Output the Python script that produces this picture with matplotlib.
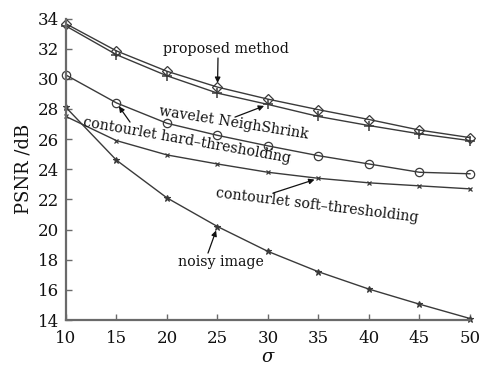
import matplotlib
matplotlib.use("Agg")
import matplotlib.pyplot as plt

sigma = [10, 15, 20, 25, 30, 35, 40, 45, 50]
proposed = [33.65, 31.85, 30.5, 29.45, 28.65, 27.95, 27.3, 26.6, 26.1]
neighshrink = [33.5, 31.6, 30.2, 29.05, 28.3, 27.5, 26.9, 26.35, 25.9]
hard = [30.25, 28.4, 27.05, 26.25, 25.55, 24.9, 24.35, 23.8, 23.7]
soft = [27.5, 25.9, 24.95, 24.35, 23.8, 23.4, 23.1, 22.9, 22.7]
noisy = [28.1, 24.6, 22.1, 20.2, 18.55, 17.2, 16.05, 15.05, 14.1]

xticks = [10, 15, 20, 25, 30, 35, 40, 45, 50]
yticks = [14, 16, 18, 20, 22, 24, 26, 28, 30, 32, 34]

line_col = "#3a3a3a"
spine_col = "#6a6a6a"
txt_col = "#111111"
serif = "DejaVu Serif"

fig = plt.figure(figsize=(4.81, 3.68), dpi=100)
ax = fig.add_axes([0.1372, 0.1304, 0.8399, 0.8193])

common = dict(color=line_col, lw=1.0, clip_on=False)
ax.plot(sigma, proposed, marker="D", markersize=5, mfc="none", mec=line_col, mew=0.9, **common)
ax.plot(sigma, neighshrink, marker="+", markersize=7, mec=line_col, mew=1.1, **common)
ax.plot(sigma, hard, marker="o", markersize=6, mfc="none", mec=line_col, mew=0.9, **common)
ax.plot(sigma, soft, marker="x", markersize=3.5, mec=line_col, mew=0.9, **common)
ax.plot(sigma, noisy, marker="*", markersize=5, mfc=line_col, mec=line_col, mew=0.8, **common)

ax.set_xlim(10, 50)
ax.set_ylim(14, 34)
ax.set_xticks(xticks)
ax.set_yticks(yticks)
for s in ["top", "right"]:
    ax.spines[s].set_visible(False)
for s in ["left", "bottom"]:
    ax.spines[s].set_color(spine_col)
    ax.spines[s].set_linewidth(1.6)
ax.tick_params(direction="in", length=4, width=1.0, color=spine_col,
               labelsize=12, labelcolor=txt_col)
ax.tick_params(axis="x", pad=7)
ax.tick_params(axis="y", pad=5)
for lab in ax.get_xticklabels() + ax.get_yticklabels():
    lab.set_family(serif)

ax.set_ylabel("PSNR /dB", family=serif, fontsize=13, color=txt_col, labelpad=4)
ax.set_xlabel("σ", family=serif, style="italic", fontsize=13, color=txt_col, labelpad=1)

fs = 10.2
arrow = dict(arrowstyle="-|>", color="#111111", lw=0.9, mutation_scale=8,
             shrinkA=0, shrinkB=3)

# proposed method
ax.text(25.84, 31.98, "proposed method", family=serif, fontsize=fs, color=txt_col,
        ha="center", va="center")
ax.annotate("", xy=(sigma[3], proposed[3]), xytext=(25.05, 31.38), arrowprops=arrow)

# wavelet NeighShrink
ax.text(26.63, 27.07, "wavelet NeighShrink", family=serif, fontsize=fs, color=txt_col,
        ha="center", va="center", rotation=-9, rotation_mode="anchor")
ax.annotate("", xy=(sigma[4], neighshrink[4]), xytext=(26.73, 27.46), arrowprops=arrow)

# contourlet hard-thresholding
ax.text(21.98, 25.94, "contourlet hard–thresholding", family=serif, fontsize=fs,
        color=txt_col, ha="center", va="center", rotation=-10, rotation_mode="anchor")
ax.annotate("", xy=(sigma[1], hard[1]), xytext=(16.34, 27.13), arrowprops=arrow)

# contourlet soft-thresholding
ax.text(34.85, 21.62, "contourlet soft–thresholding", family=serif, fontsize=fs,
        color=txt_col, ha="center", va="center", rotation=-7, rotation_mode="anchor")
ax.annotate("", xy=(sigma[5], soft[5]), xytext=(30.5, 22.42), arrowprops=arrow)

# noisy image
ax.text(25.35, 17.84, "noisy image", family=serif, fontsize=fs, color=txt_col,
        ha="center", va="center")
ax.annotate("", xy=(sigma[3], noisy[3]), xytext=(24.06, 18.44), arrowprops=arrow)

fig.savefig("out.png", dpi=100)
